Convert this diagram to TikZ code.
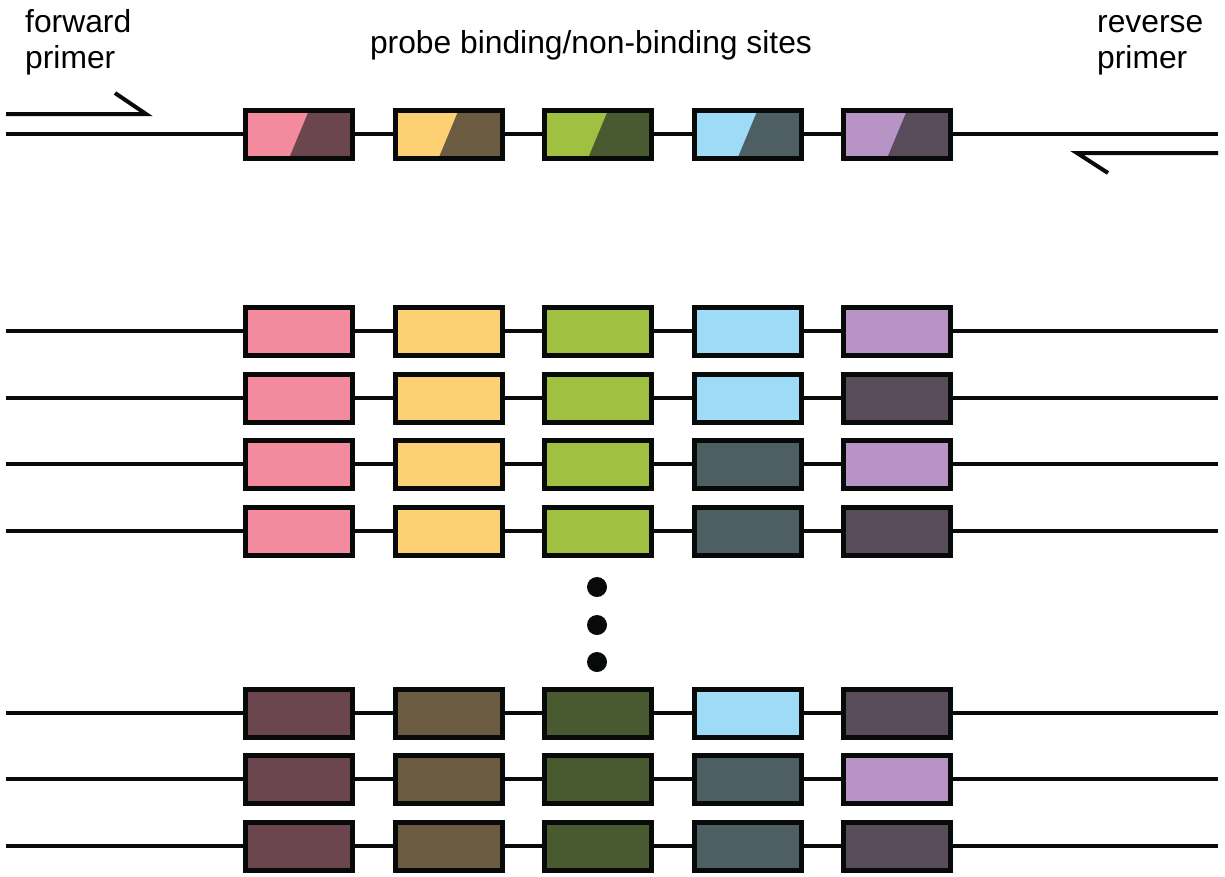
\documentclass[tikz,border=0pt]{standalone}
\usepackage{fontspec}
\setmainfont{Liberation Sans}
\definecolor{pinkL}{HTML}{F48A9E}
\definecolor{pinkD}{HTML}{6B464F}
\definecolor{yelL}{HTML}{FDD173}
\definecolor{yelD}{HTML}{6B5B40}
\definecolor{grnL}{HTML}{9FC040}
\definecolor{grnD}{HTML}{4A5A30}
\definecolor{bluL}{HTML}{9DDBF7}
\definecolor{bluD}{HTML}{4D5F63}
\definecolor{purL}{HTML}{B893C6}
\definecolor{purD}{HTML}{584B5A}
\definecolor{ink}{HTML}{080A0A}
\tikzset{
  site/.style={draw=ink, line width=5pt, minimum width=107pt, minimum height=48pt, inner sep=0pt, line join=miter},
  halfsite/.style 2 args={site, fill=#2, path picture={
      \fill[#1] (path picture bounding box.north west) -- ([xshift=10pt]path picture bounding box.north)
        -- ([xshift=-10pt]path picture bounding box.south) -- (path picture bounding box.south west) -- cycle;}},
  strand/.style={draw=ink, line width=4pt},
  primer/.style={draw=ink, line width=4pt, line join=miter, miter limit=10},
  label/.style={font=\fontsize{31.8}{36}\selectfont, inner sep=0pt, align=left, anchor=base west},
  dot/.style={circle, fill=ink, minimum size=20pt, inner sep=0pt},
}
\begin{document}
\begin{tikzpicture}[x=1pt, y=-1pt]
\useasboundingbox (0,0) rectangle (1225,876);
% labels (base anchor = baseline of the last line)
\node[label] (fwd) at (25,68) {forward\\primer};
\node[label] (rev) at (1097,68) {reverse\\primer};
\node[font=\fontsize{31.8}{36}\selectfont, inner sep=0pt, anchor=base] (probe) at (591,53) {probe binding/non-binding sites};
% top template
\coordinate (T0) at (6,134);
\coordinate (T6) at (1218,134);
\foreach \i/\lc/\dc in {1/pinkL/pinkD, 2/yelL/yelD, 3/grnL/grnD, 4/bluL/bluD, 5/purL/purD} {
  \node[halfsite={\lc}{\dc}] (T\i) at ({299+149.5*(\i-1)}, 134) {};
}
\draw[strand] (T0) -- (T1.west) (T1.east) -- (T2.west) (T2.east) -- (T3.west)
  (T3.east) -- (T4.west) (T4.east) -- (T5.west) (T5.east) -- (T6);
% primers
\coordinate (F0) at (6,114);
\coordinate (F1) at (146,114);
\coordinate (F2) at (115,93);
\draw[primer] (F0) -- (F1) -- (F2);
\coordinate (R0) at (1218,153);
\coordinate (R1) at (1077,153);
\coordinate (R2) at (1108,173);
\draw[primer] (R0) -- (R1) -- (R2);
% variant rows
\foreach \r/\y/\a/\b/\c/\d/\e in {
  1/331/pinkL/yelL/grnL/bluL/purL,
  2/398/pinkL/yelL/grnL/bluL/purD,
  3/464/pinkL/yelL/grnL/bluD/purL,
  4/531/pinkL/yelL/grnL/bluD/purD,
  5/713/pinkD/yelD/grnD/bluL/purD,
  6/779/pinkD/yelD/grnD/bluD/purL,
  7/846/pinkD/yelD/grnD/bluD/purD} {
  \coordinate (r\r s) at (6,\y);
  \coordinate (r\r e) at (1218,\y);
  \node[site, fill=\a] (r\r b1) at (299,\y) {};
  \node[site, fill=\b] (r\r b2) at (448.5,\y) {};
  \node[site, fill=\c] (r\r b3) at (598,\y) {};
  \node[site, fill=\d] (r\r b4) at (747.5,\y) {};
  \node[site, fill=\e] (r\r b5) at (897,\y) {};
  \draw[strand] (r\r s) -- (r\r b1.west) (r\r b1.east) -- (r\r b2.west) (r\r b2.east) -- (r\r b3.west)
    (r\r b3.east) -- (r\r b4.west) (r\r b4.east) -- (r\r b5.west) (r\r b5.east) -- (r\r e);
}
% ellipsis
\node[dot] (d1) at (597,587) {};
\node[dot] (d2) at (597,625) {};
\node[dot] (d3) at (597,662) {};
\end{tikzpicture}
\end{document}
